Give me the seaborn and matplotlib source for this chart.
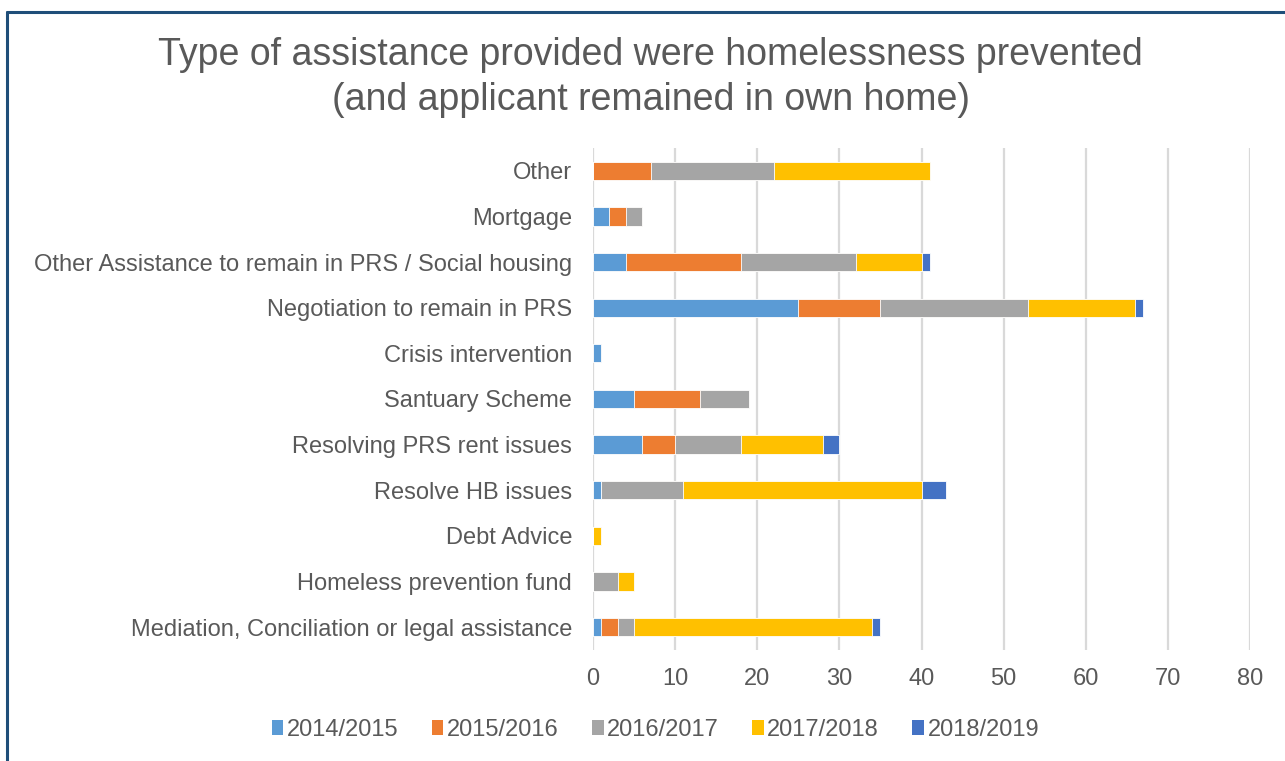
import numpy as np
import pandas as pd
import seaborn as sns
import matplotlib.pyplot as plt
from matplotlib.patches import Patch
from matplotlib.lines import Line2D

categories = [
    "Other",
    "Mortgage",
    "Other Assistance to remain in PRS / Social housing",
    "Negotiation to remain in PRS",
    "Crisis intervention",
    "Santuary Scheme",
    "Resolving PRS rent issues",
    "Resolve HB issues",
    "Debt Advice",
    "Homeless prevention fund",
    "Mediation, Conciliation or legal assistance",
]
years = ["2014/2015", "2015/2016", "2016/2017", "2017/2018", "2018/2019"]
y2014 = [0, 2, 4, 25, 1, 5, 6, 1, 0, 0, 1]
y2015 = [7, 2, 14, 10, 0, 8, 4, 0, 0, 0, 2]
y2016 = [15, 2, 14, 18, 0, 6, 8, 10, 0, 3, 2]
y2017 = [19, 0, 8, 13, 0, 0, 10, 29, 1, 2, 29]
y2018 = [0, 0, 1, 1, 0, 0, 2, 3, 0, 0, 1]
colors = ["#5B9BD5", "#ED7D31", "#A5A5A5", "#FFC000", "#4472C4"]

series = [y2014, y2015, y2016, y2017, y2018]
cum = np.cumsum(np.array(series), axis=0)

sns.set_theme(style="white")
plt.rcParams["font.family"] = ["Liberation Sans", "DejaVu Sans"]
text_col = "#595959"

fig = plt.figure(figsize=(12.85, 7.61), dpi=100)
ax = fig.add_axes([0.4615, 0.146, 0.9728 - 0.4615, 0.8055 - 0.146])

# Stacked bars: draw cumulative totals from the last year back to the first
for i in range(len(years) - 1, -1, -1):
    df = pd.DataFrame({"category": categories, "value": cum[i]})
    sns.barplot(data=df, x="value", y="category", order=categories,
                color=colors[i], width=0.4, orient="h", ax=ax,
                edgecolor="white", linewidth=0.6, saturation=1, zorder=3)

ax.set_xlim(0, 80)
ax.set_ylim(len(categories) - 0.5, -0.5)
ax.set_xticks(range(0, 81, 10))
ax.grid(axis="x", color="#D9D9D9", linewidth=1.6, zorder=0)
ax.set_axisbelow(True)
for s in ax.spines.values():
    s.set_visible(False)
ax.set_xlabel("")
ax.set_ylabel("")
ax.tick_params(axis="both", length=0, labelsize=17, labelcolor=text_col)
ax.tick_params(axis="x", pad=13)
ax.tick_params(axis="y", pad=15)

fig.text(0.5065, 0.898, "Type of assistance provided were homelessness prevented\n(and applicant remained in own home)",
         ha="center", va="center", fontsize=27, color=text_col, linespacing=1.32)

handles = [Patch(facecolor=c, edgecolor="none", label=y) for c, y in zip(colors, years)]
fig.legend(handles=handles, loc="center", bbox_to_anchor=(0.51, 0.041), ncol=5,
           frameon=False, fontsize=17, labelcolor=text_col, handlelength=0.5,
           handleheight=0.6, handletextpad=0.15, columnspacing=1.4)

# Chart frame on the top and left edges
fig.add_artist(Line2D([7 / 1285, 1], [1 - 12 / 761, 1 - 12 / 761], color="#1F4E79",
                      linewidth=2.2, transform=fig.transFigure))
fig.add_artist(Line2D([7 / 1285, 7 / 1285], [0, 1 - 12 / 761], color="#1F4E79",
                      linewidth=2.2, transform=fig.transFigure))

fig.savefig("out.png", dpi=100)
